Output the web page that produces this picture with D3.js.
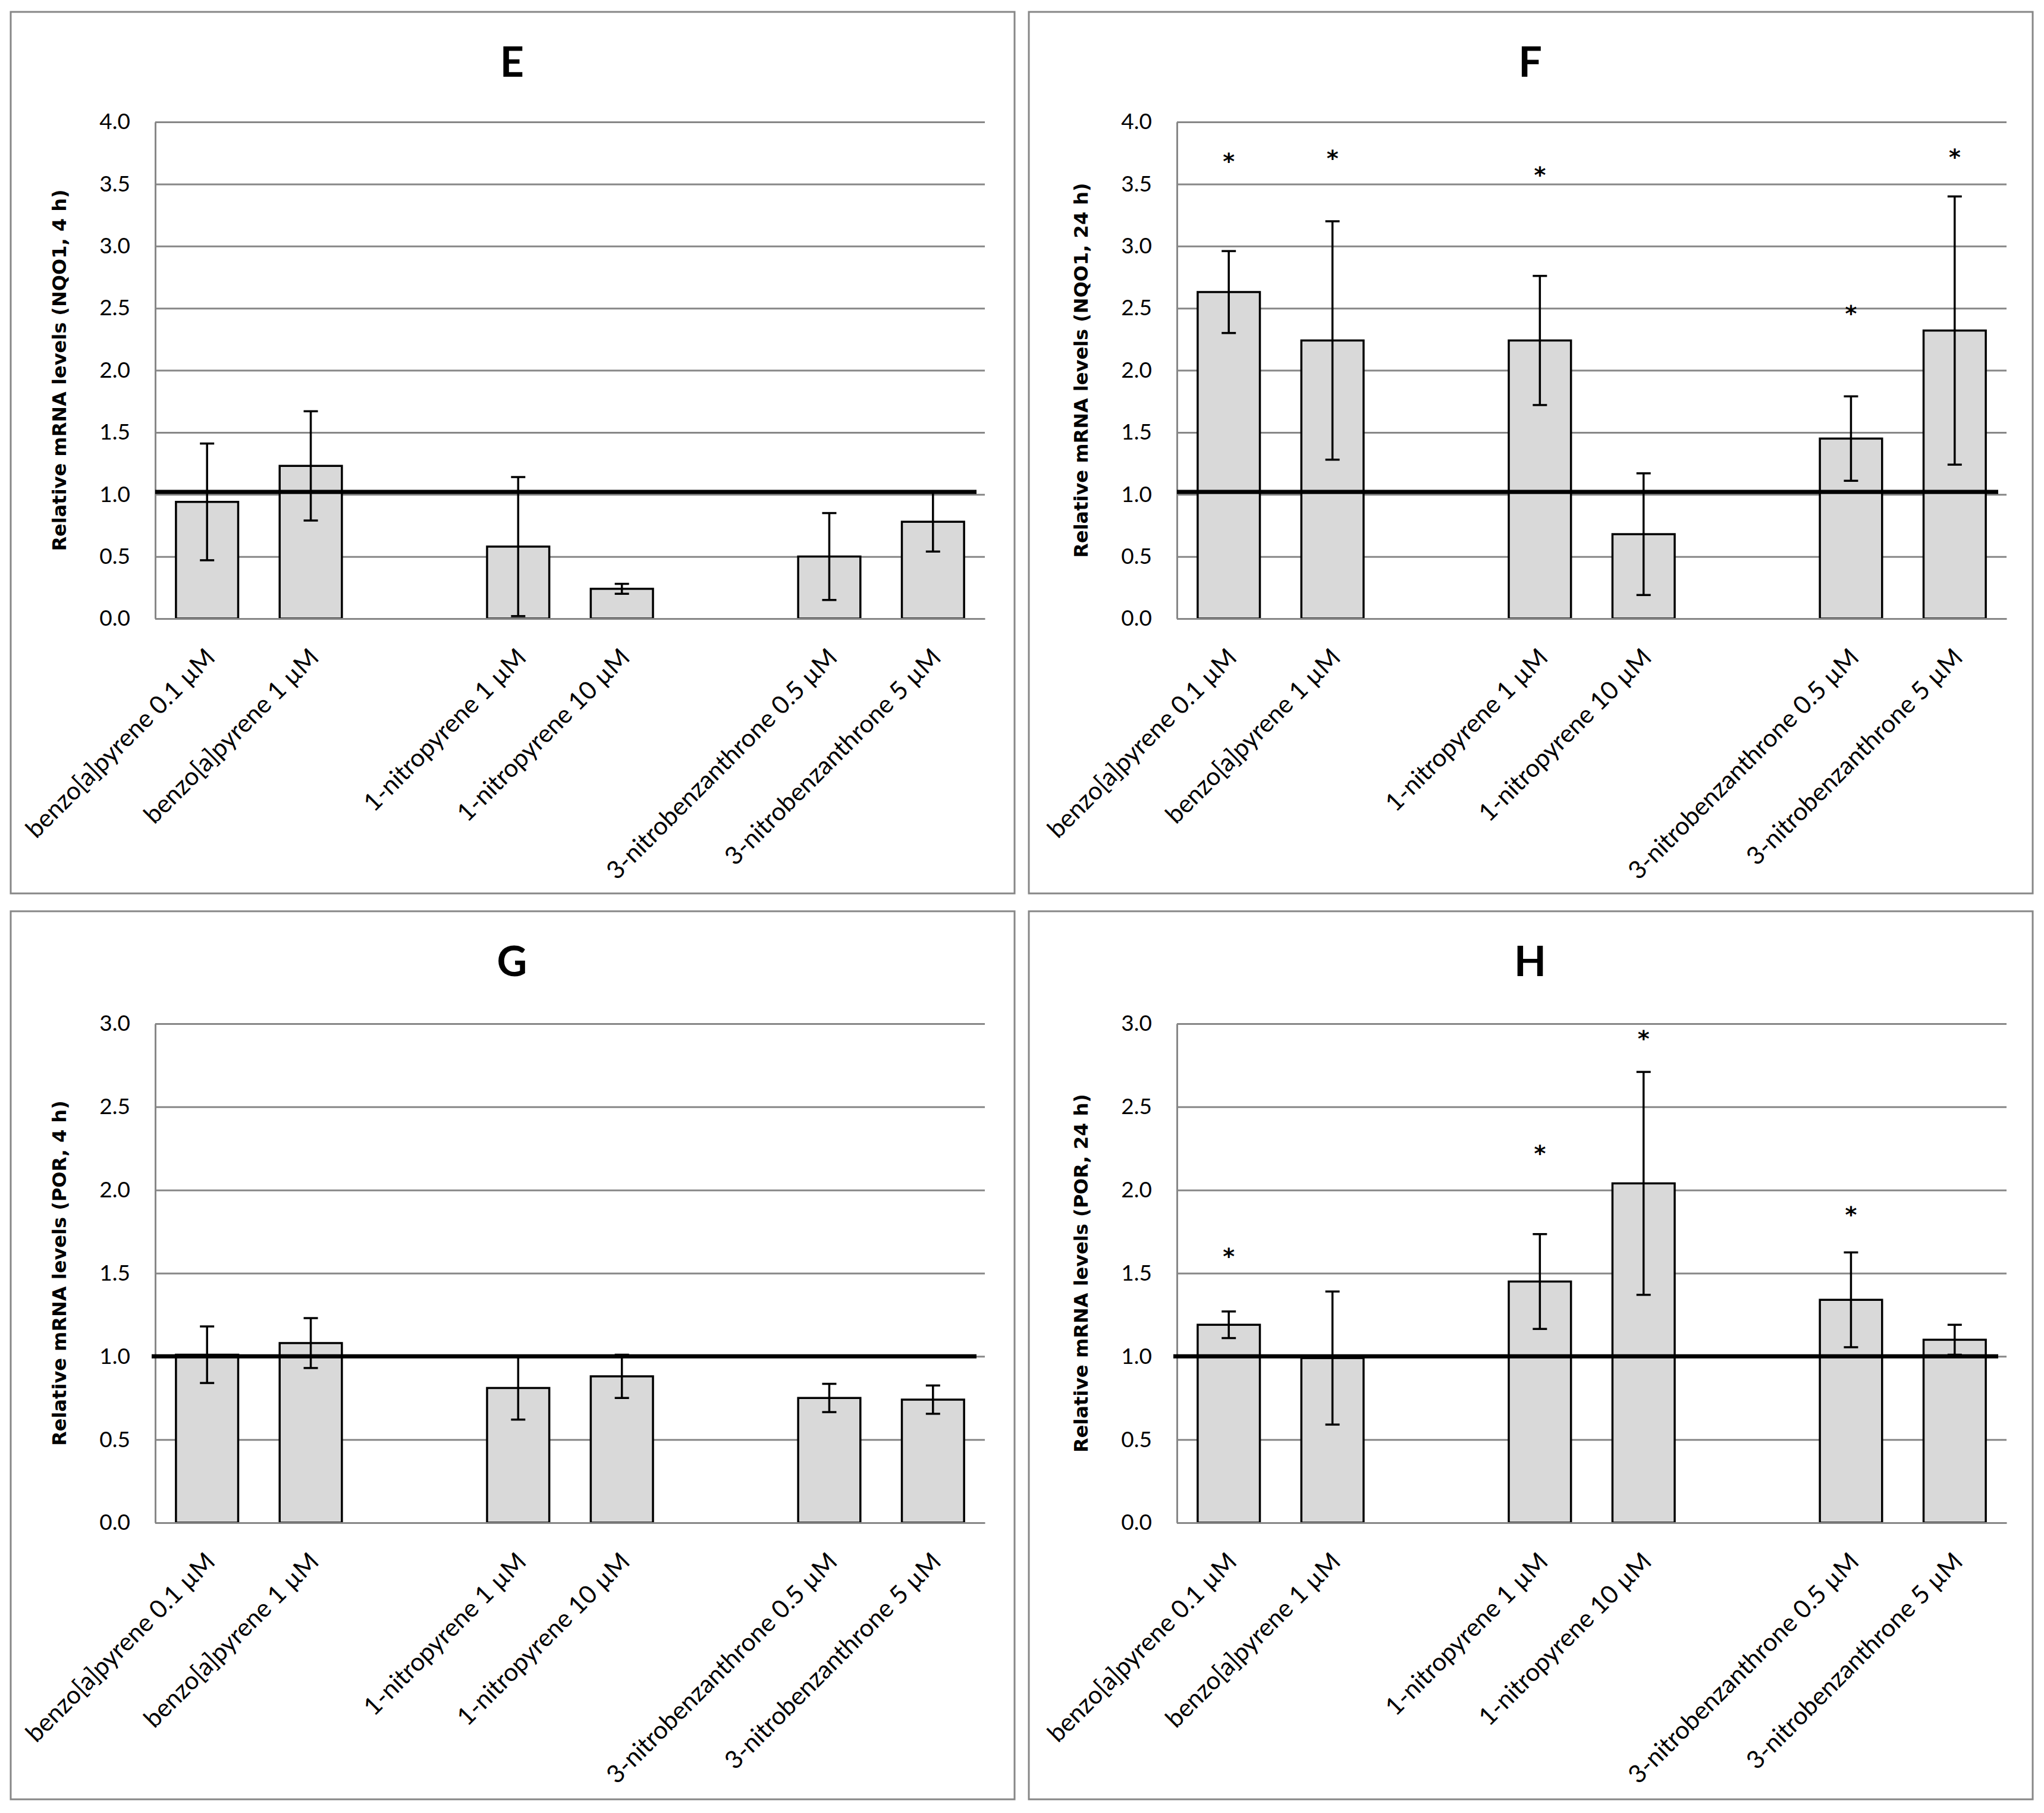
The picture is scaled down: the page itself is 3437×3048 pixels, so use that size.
<!DOCTYPE html>
<html>
<head>
<meta charset="utf-8">
<script src="https://cdn.jsdelivr.net/npm/d3@7"></script>
<style>
  body { margin: 0; background: #fff; }
  svg { display: block; }
</style>
</head>
<body>
<div id="chart"></div>
<script>
// treatments (blank slots separate the three compounds)
var categories = ["benzo[a]pyrene 0.1 \u00b5M", "benzo[a]pyrene 1 \u00b5M", "",
                  "1-nitropyrene 1 \u00b5M", "1-nitropyrene 10 \u00b5M", "",
                  "3-nitrobenzanthrone 0.5 \u00b5M", "3-nitrobenzanthrone 5 \u00b5M"];

// E: NQO1, 4 h
var nqo1_4h     = [0.94, 1.23, null, 0.58, 0.24, null, 0.50, 0.78];
var nqo1_4h_err = [0.47, 0.44, null, 0.56, 0.04, null, 0.35, 0.24];
var nqo1_4h_sig = [null, null, null, null, null, null, null, null];

// F: NQO1, 24 h
var nqo1_24h     = [2.63, 2.24, null, 2.24, 0.68, null, 1.45, 2.32];
var nqo1_24h_err = [0.33, 0.96, null, 0.52, 0.49, null, 0.34, 1.08];
var nqo1_24h_sig = [3.71, 3.73, null, 3.60, null, null, 2.48, 3.74];

// G: POR, 4 h
var por_4h     = [1.01, 1.08, null, 0.81, 0.88, null, 0.75, 0.74];
var por_4h_err = [0.17, 0.15, null, 0.19, 0.13, null, 0.085, 0.085];
var por_4h_sig = [null, null, null, null, null, null, null, null];

// H: POR, 24 h
var por_24h     = [1.19, 0.99, null, 1.45, 2.04, null, 1.34, 1.10];
var por_24h_err = [0.08, 0.40, null, 0.285, 0.67, null, 0.285, 0.09];
var por_24h_sig = [1.62, null, null, 2.24, 2.93, null, 1.87, null];

var nqo1Ticks = [0, 0.5, 1, 1.5, 2, 2.5, 3, 3.5, 4];
var porTicks  = [0, 0.5, 1, 1.5, 2, 2.5, 3];

var panels = [
  { title: "E", label: "Relative mRNA levels (NQO1, 4 h)",  values: nqo1_4h,  errors: nqo1_4h_err,  sig: nqo1_4h_sig,  ticks: nqo1Ticks, control: 1.02, col: 0, row: 0 },
  { title: "F", label: "Relative mRNA levels (NQO1, 24 h)", values: nqo1_24h, errors: nqo1_24h_err, sig: nqo1_24h_sig, ticks: nqo1Ticks, control: 1.02, col: 1, row: 0 },
  { title: "G", label: "Relative mRNA levels (POR, 4 h)",   values: por_4h,   errors: por_4h_err,   sig: por_4h_sig,   ticks: porTicks,  control: 1.0,  col: 0, row: 1 },
  { title: "H", label: "Relative mRNA levels (POR, 24 h)",  values: por_24h,  errors: por_24h_err,  sig: por_24h_sig,  ticks: porTicks,  control: 1.0,  col: 1, row: 1 }
];

var W = 3437, H = 3048;
var boxX = [18, 1730], boxY = [20, 1532], boxW = 1688, boxH = [1482, 1493];
var plotX = [261, 1979], plotTop = [205, 1721], plotBottom = [1040, 2560], plotW = 1395;

var gray = "#878787";
var textFont = "Lato, 'Open Sans', sans-serif";

var svg = d3.select("#chart").append("svg")
    .attr("width", W)
    .attr("height", H);

svg.append("rect").attr("width", W).attr("height", H).attr("fill", "#fff");

panels.forEach(function(p) {
  var bx = boxX[p.col], by = boxY[p.row];

  svg.append("rect")
    .attr("x", bx).attr("y", by)
    .attr("width", boxW).attr("height", boxH[p.row])
    .attr("fill", "#fff")
    .attr("stroke", gray)
    .attr("stroke-width", 3);

  var g = svg.append("g")
    .attr("transform", "translate(" + plotX[p.col] + "," + plotTop[p.row] + ")");
  var ph = plotBottom[p.row] - plotTop[p.row];

  var x = d3.scaleBand()
    .domain(d3.range(categories.length))
    .range([0, plotW])
    .paddingInner(0.4)
    .paddingOuter(0.2);

  var y = d3.scaleLinear()
    .domain([0, d3.max(p.ticks)])
    .range([ph, 0]);

  // title
  svg.append("text")
    .attr("x", bx + 843)
    .attr("y", by + 109)
    .attr("text-anchor", "middle")
    .style("font-family", textFont)
    .style("font-weight", "bold")
    .style("font-size", "70px")
    .text(p.title);

  // gridlines + tick labels
  var yAxis = d3.axisLeft(y)
    .tickValues(p.ticks)
    .tickSize(-plotW)
    .tickSizeOuter(0)
    .tickPadding(42)
    .tickFormat(d3.format(".1f"));

  var ya = g.append("g").attr("class", "y axis").call(yAxis);
  ya.selectAll(".tick line").attr("stroke", gray).attr("stroke-width", 3);
  ya.select(".domain").attr("stroke", gray).attr("stroke-width", 3);
  ya.selectAll("text")
    .style("font-family", textFont)
    .style("font-size", "37px")
    .attr("fill", "#000");

  // y label
  g.append("text")
    .attr("transform", "translate(-150," + (ph / 2) + ") rotate(-90)")
    .attr("text-anchor", "middle")
    .style("font-family", "'DejaVu Sans', Verdana, sans-serif")
    .style("font-weight", "bold")
    .style("font-size", "32px")
    .text(p.label);

  // bars
  var rows = categories.map(function(c, i) {
    return { i: i, v: p.values[i], e: p.errors[i], s: p.sig[i] };
  }).filter(function(d) { return d.v !== null; });

  g.selectAll(".bar")
    .data(rows)
   .enter()
    .append("rect")
    .attr("class", "bar")
    .attr("x", function(d) { return x(d.i); })
    .attr("y", function(d) { return y(d.v); })
    .attr("width", x.bandwidth())
    .attr("height", function(d) { return y(0) - y(d.v); })
    .attr("fill", "#d9d9d9")
    .attr("stroke", "#000")
    .attr("stroke-width", 3.5);

  // error bars
  var cap = 12;
  var err = g.selectAll(".err")
    .data(rows)
   .enter()
    .append("g")
    .attr("class", "err")
    .attr("transform", function(d) { return "translate(" + (x(d.i) + x.bandwidth() / 2) + ",0)"; })
    .attr("stroke", "#000")
    .attr("stroke-width", 3.5);

  err.append("line")
    .attr("y1", function(d) { return y(d.v + d.e); })
    .attr("y2", function(d) { return y(Math.max(0, d.v - d.e)); });
  err.append("line")
    .attr("x1", -cap).attr("x2", cap)
    .attr("y1", function(d) { return y(d.v + d.e); })
    .attr("y2", function(d) { return y(d.v + d.e); });
  err.append("line")
    .attr("x1", -cap).attr("x2", cap)
    .attr("y1", function(d) { return y(Math.max(0, d.v - d.e)); })
    .attr("y2", function(d) { return y(Math.max(0, d.v - d.e)); });

  // control level
  g.append("line")
    .attr("x1", p.row === 0 ? 0 : -6)
    .attr("x2", plotW - 14)
    .attr("y1", y(p.control))
    .attr("y2", y(p.control))
    .attr("stroke", "#000")
    .attr("stroke-width", 7);

  // significance marks
  g.selectAll(".sig")
    .data(rows.filter(function(d) { return d.s !== null; }))
   .enter()
    .append("text")
    .attr("class", "sig")
    .attr("x", function(d) { return x(d.i) + x.bandwidth() / 2; })
    .attr("y", function(d) { return y(d.s) + 18; })
    .attr("text-anchor", "middle")
    .style("font-family", "'DejaVu Sans', sans-serif")
    .style("font-weight", "bold")
    .style("font-size", "38px")
    .text("*");

  // category labels
  var xAxis = d3.axisBottom(x)
    .tickSize(0)
    .tickFormat(function(i) { return categories[i]; });

  var xa = g.append("g")
    .attr("class", "x axis")
    .attr("transform", "translate(0," + ph + ")")
    .call(xAxis);
  xa.select(".domain").attr("stroke", gray).attr("stroke-width", 3);
  xa.selectAll("text")
    .attr("y", 0)
    .attr("dy", 0)
    .attr("text-anchor", "end")
    .attr("transform", "translate(16,68) rotate(-45)")
    .style("font-family", textFont)
    .style("font-size", "42px")
    .attr("fill", "#000");
});
</script>
</body>
</html>
